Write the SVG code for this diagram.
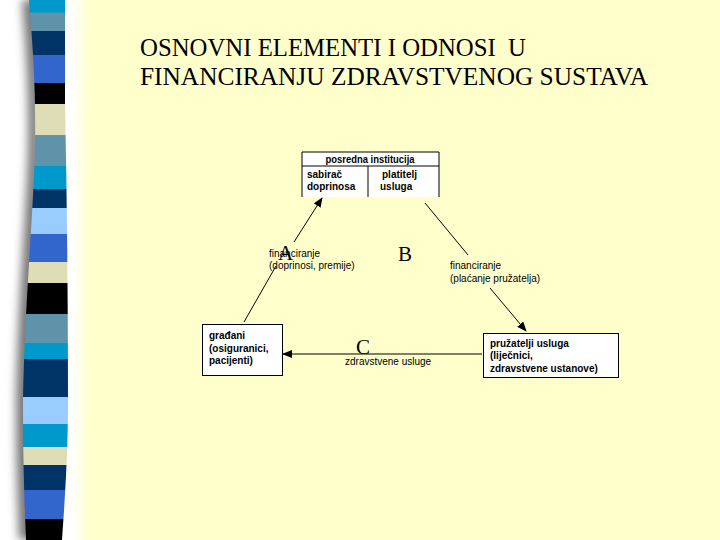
<svg xmlns="http://www.w3.org/2000/svg" width="720" height="540" viewBox="0 0 720 540">
<style>
.title{font-family:"Liberation Serif","Times New Roman",serif;font-size:25px;fill:#000;white-space:pre}
.big{font-family:"Liberation Serif","Times New Roman",serif;font-size:21px;fill:#000}
.box{font-family:"Liberation Sans",Arial,sans-serif;font-size:10px;font-weight:bold;fill:#000}
.lbl{font-family:"Liberation Sans",Arial,sans-serif;font-size:10px;fill:#000}
.edge{stroke:#000;stroke-width:1;fill:none}
.frame{fill:#fff;stroke:#000;stroke-width:1}
</style>
<defs>
<linearGradient id="bg" gradientUnits="userSpaceOnUse" x1="0" y1="0" x2="90" y2="0">
<stop offset="0" stop-color="#ffffff"/>
<stop offset="0.8" stop-color="#ffffff"/>
<stop offset="1" stop-color="#ffffcc"/>
</linearGradient>
<filter id="blur" x="-1" y="-0.1" width="3" height="1.2"><feGaussianBlur stdDeviation="5"/></filter>
<clipPath id="strip"><path d="M29,0 C34,60 36,100 35,150 C33,220 25,300 23,400 C23,470 25,510 26,540 L62,540 C64,510 68,460 68,400 C68,300 67,200 65,100 L65,0 Z"/></clipPath>
<marker id="ah" markerWidth="10" markerHeight="8" refX="9" refY="4" orient="auto" markerUnits="userSpaceOnUse">
<path d="M0,0 L10,4 L0,8 Z" fill="#000"/>
</marker>
</defs>
<rect width="720" height="540" fill="#ffffcc"/>
<rect width="90" height="540" fill="url(#bg)"/>
<path d="M22,0 C27,60 29,100 28,150 C26,220 18,300 16,400 C16,470 18,510 19,540 L40,540 L40,0 Z" fill="#777" filter="url(#blur)"/>
<g clip-path="url(#strip)">
<rect x="0" y="0" width="90" height="13" fill="#0099cc"/>
<rect x="0" y="12.5" width="90" height="19" fill="#5f93aa"/>
<rect x="0" y="31" width="90" height="24" fill="#003366"/>
<rect x="0" y="55" width="90" height="28" fill="#3366cc"/>
<rect x="0" y="83" width="90" height="21" fill="#000"/>
<rect x="0" y="104" width="90" height="31" fill="#deddb6"/>
<rect x="0" y="135" width="90" height="31" fill="#5f93aa"/>
<rect x="0" y="166" width="90" height="23" fill="#0099cc"/>
<rect x="0" y="189" width="90" height="19" fill="#003366"/>
<rect x="0" y="208" width="90" height="26" fill="#99ccff"/>
<rect x="0" y="234" width="90" height="28" fill="#3366cc"/>
<rect x="0" y="262" width="90" height="21" fill="#deddb6"/>
<rect x="0" y="283" width="90" height="31" fill="#000"/>
<rect x="0" y="314" width="90" height="29" fill="#5f93aa"/>
<rect x="0" y="343" width="90" height="16" fill="#0099cc"/>
<rect x="0" y="359" width="90" height="38" fill="#003366"/>
<rect x="0" y="397" width="90" height="27" fill="#99ccff"/>
<rect x="0" y="424" width="90" height="23" fill="#0099cc"/>
<rect x="0" y="447" width="90" height="18" fill="#deddb6"/>
<rect x="0" y="465" width="90" height="25" fill="#003366"/>
<rect x="0" y="490" width="90" height="29" fill="#3366cc"/>
<rect x="0" y="519" width="90" height="21" fill="#000"/>
</g>
<g id="title">
<text class="title" x="140" y="56" textLength="386" lengthAdjust="spacingAndGlyphs">OSNOVNI ELEMENTI I ODNOSI  U</text>
<text class="title" x="140" y="85" textLength="508" lengthAdjust="spacingAndGlyphs">FINANCIRANJU ZDRAVSTVENOG SUSTAVA</text>
</g>
<g id="connectors">
<line class="edge" x1="294" y1="242" x2="322" y2="198" marker-end="url(#ah)"/>
<line class="edge" x1="276" y1="266" x2="244" y2="322"/>
<line class="edge" x1="425" y1="203" x2="468" y2="255"/>
<line class="edge" x1="490" y1="288" x2="526" y2="331" marker-end="url(#ah)"/>
<line class="edge" x1="482" y1="354" x2="283" y2="354" marker-end="url(#ah)"/>
</g>
<g id="posredna">
<rect x="302" y="152" width="137" height="45" fill="#fff"/>
<path class="edge" d="M302,197 V152 H439 V197 M302,166 H439 M368,166 V197"/>
<text class="box" x="370" y="163" text-anchor="middle" textLength="89" lengthAdjust="spacingAndGlyphs">posredna institucija</text>
<text class="box" x="307" y="178">sabirač</text>
<text class="box" x="307" y="190">doprinosa</text>
<text class="box" x="382" y="178">platitelj</text>
<text class="box" x="380" y="190">usluga</text>
</g>
<g id="gradjani">
<rect class="frame" x="202.5" y="324.5" width="80" height="51"/>
<text class="box" x="209" y="339">građani</text>
<text class="box" x="209" y="351.5">(osiguranici,</text>
<text class="box" x="209" y="364">pacijenti)</text>
</g>
<g id="pruzatelji">
<rect class="frame" x="483.5" y="333.5" width="135" height="44"/>
<text class="box" x="490" y="347">pružatelji usluga</text>
<text class="box" x="490" y="359">(liječnici,</text>
<text class="box" x="490" y="371.5">zdravstvene ustanove)</text>
</g>
<g id="labels">
<text class="lbl" x="269" y="257">financiranje</text>
<text class="lbl" x="269" y="269">(doprinosi, premije)</text>
<text class="lbl" x="450" y="269">financiranje</text>
<text class="lbl" x="450" y="282">(plaćanje pružatelja)</text>
<text class="lbl" x="345" y="365">zdravstvene usluge</text>
<text class="big" x="278" y="260">A</text>
<text class="big" x="398" y="261">B</text>
<text class="big" x="356" y="354">C</text>
</g>
</svg>
